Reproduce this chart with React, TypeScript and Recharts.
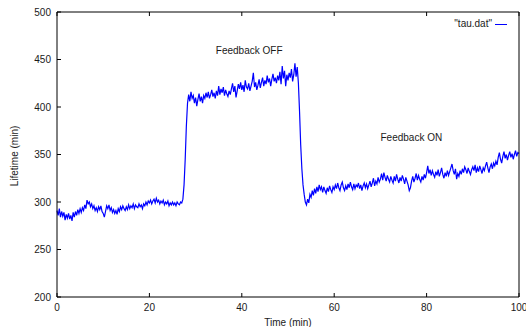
import { LineChart, Line, XAxis, YAxis, ReferenceDot, Label } from 'recharts'

// samples every 0.25 min, starting at t = 0
const TIME_START = 0
const TIME_STEP = 0.25

// lifetime (min); one row = 2.5 min
const lifetime = [
  291, 286, 293, 284, 290, 285, 289, 281, 287, 283, // 0
  288, 282, 286, 280, 289, 284, 290, 286, 292, 288, // 2.5
  293, 289, 294, 291, 297, 293, 302, 298, 300, 295, // 5
  298, 293, 296, 291, 294, 290, 295, 292, 296, 290, // 7.5
  288, 284, 290, 296, 293, 297, 291, 294, 289, 292, // 10
  288, 291, 287, 293, 290, 295, 292, 296, 293, 291, // 12.5
  295, 292, 297, 293, 296, 294, 298, 293, 297, 295, // 15
  294, 298, 295, 297, 293, 298, 296, 300, 297, 301, // 17.5
  299, 302, 298, 301, 303, 299, 304, 300, 302, 298, // 20
  301, 299, 302, 297, 300, 298, 301, 296, 299, 297, // 22.5
  300, 297, 299, 296, 300, 298, 297, 300, 299, 303, // 25
  318, 345, 380, 404, 413, 406, 416, 409, 412, 404, // 27.5
  410, 401, 408, 414, 406, 411, 404, 412, 409, 415, // 30
  410, 416, 409, 413, 418, 411, 415, 409, 417, 412, // 32.5
  422, 413, 419, 415, 421, 412, 418, 414, 411, 417, // 35
  413, 419, 425, 416, 422, 410, 417, 424, 419, 426, // 37.5
  418, 423, 416, 428, 421, 419, 425, 417, 422, 427, // 40
  436, 421, 426, 418, 423, 429, 420, 426, 431, 422, // 42.5
  428, 424, 433, 426, 430, 422, 429, 435, 427, 431, // 45
  425, 433, 428, 437, 424, 443, 430, 438, 422, 434, // 47.5
  428, 436, 431, 440, 427, 434, 446, 432, 442, 425, // 50
  395, 360, 335, 318, 308, 300, 297, 303, 299, 308, // 52.5
  305, 312, 307, 314, 309, 316, 311, 318, 313, 316, // 55
  310, 316, 312, 309, 315, 311, 317, 313, 310, 316, // 57.5
  313, 318, 314, 320, 315, 312, 318, 321, 315, 312, // 60
  317, 313, 319, 315, 321, 316, 313, 319, 314, 318, // 62.5
  316, 320, 314, 318, 312, 317, 320, 315, 319, 314, // 65
  318, 322, 316, 320, 325, 317, 322, 319, 326, 321, // 67.5
  324, 330, 323, 331, 326, 322, 328, 324, 321, 327, // 70
  323, 320, 327, 322, 329, 324, 320, 326, 322, 328, // 72.5
  324, 319, 326, 322, 318, 312, 315, 322, 327, 321, // 75
  325, 330, 323, 328, 324, 321, 327, 323, 329, 325, // 77.5
  331, 338, 330, 334, 328, 333, 329, 326, 332, 328, // 80
  334, 327, 331, 336, 329, 325, 331, 327, 333, 328, // 82.5
  332, 336, 340, 333, 329, 335, 324, 330, 327, 333, // 85
  329, 335, 331, 337, 334, 330, 336, 332, 329, 334, // 87.5
  337, 333, 339, 331, 336, 332, 338, 334, 330, 336, // 90
  333, 338, 342, 336, 331, 337, 340, 335, 341, 338, // 92.5
  343, 339, 347, 352, 345, 341, 348, 353, 346, 350, // 95
  344, 349, 353, 347, 351, 345, 350, 354, 348, 352, // 97.5
  351, // 100
]

const xTicks = [0, 20, 40, 60, 80, 100]
const yTicks = [200, 250, 300, 350, 400, 450, 500]

const annotations = [
  { text: 'Feedback OFF', time: 41.6, lifetime: 460 },
  { text: 'Feedback ON', time: 76.7, lifetime: 368 },
]

const seriesName = '"tau.dat"'

const FONT = '"Liberation Sans", Arial, Helvetica, sans-serif'
const INK = '#1a1a1a'
const BLUE = '#0000ff'
const tickStyle = { fontSize: 10, fill: INK, fontFamily: FONT }
const noTick = () => <g />

const chartData = lifetime.map((v, i) => ({ time: TIME_START + i * TIME_STEP, lifetime: v }))

export default function App() {
  return (
    <div style={{ position: 'relative', width: 526, height: 327, fontFamily: FONT }}>
      <style>{'body { margin: 0; }'}</style>
      <LineChart width={526} height={327} data={chartData} margin={{ top: 11, right: 6, bottom: 0, left: 0 }}>
        {/* gnuplot style: full box, inward ticks on all four sides */}
        <XAxis
          xAxisId="bottom" dataKey="time" type="number" domain={[0, 100]} ticks={xTicks}
          height={30} tickSize={-4} tickMargin={11}
          tick={tickStyle} stroke="#000" interval={0}
        >
          <Label content={() => (
            <text x={288} y={322} textAnchor="middle" dominantBaseline="central" fontSize={10} fill={INK} fontFamily={FONT}>
              Time (min)
            </text>
          )} />
        </XAxis>
        <XAxis
          xAxisId="top" orientation="top" dataKey="time" type="number" domain={[0, 100]} ticks={xTicks}
          height={1} tickSize={-4} tick={noTick} stroke="#000" interval={0}
        />
        <YAxis
          yAxisId="left" type="number" domain={[200, 500]} ticks={yTicks}
          width={57} tickSize={-4} tickMargin={10}
          tick={tickStyle} stroke="#000" interval={0}
        >
          <Label content={() => (
            <text x={14} y={156} transform="rotate(-90 14 156)" textAnchor="middle" dominantBaseline="central" fontSize={10} fill={INK} fontFamily={FONT}>
              Lifetime (min)
            </text>
          )} />
        </YAxis>
        <YAxis
          yAxisId="right" orientation="right" type="number" domain={[200, 500]} ticks={yTicks}
          width={1} tickSize={-4} tick={noTick} stroke="#000" interval={0}
        />

        <Line
          xAxisId="bottom" yAxisId="left" dataKey="lifetime" type="linear"
          stroke={BLUE} strokeWidth={1.2} dot={false} isAnimationActive={false}
        />

        {annotations.map(a => (
          <ReferenceDot
            key={a.text} xAxisId="bottom" yAxisId="left" x={a.time} y={a.lifetime}
            r={0} fill="none" stroke="none"
            label={{ value: a.text, position: 'center', fontSize: 10, fill: INK, fontFamily: FONT }}
          />
        ))}
      </LineChart>

      {/* key, top right inside the box */}
      <div style={{ position: 'absolute', top: 17, right: 19, display: 'flex', alignItems: 'center', fontSize: 10, color: INK, lineHeight: '14px' }}>
        <span>{seriesName}</span>
        <span style={{ display: 'inline-block', width: 12, height: 0, borderTop: `1.2px solid ${BLUE}`, marginLeft: 3 }} />
      </div>
    </div>
  )
}
